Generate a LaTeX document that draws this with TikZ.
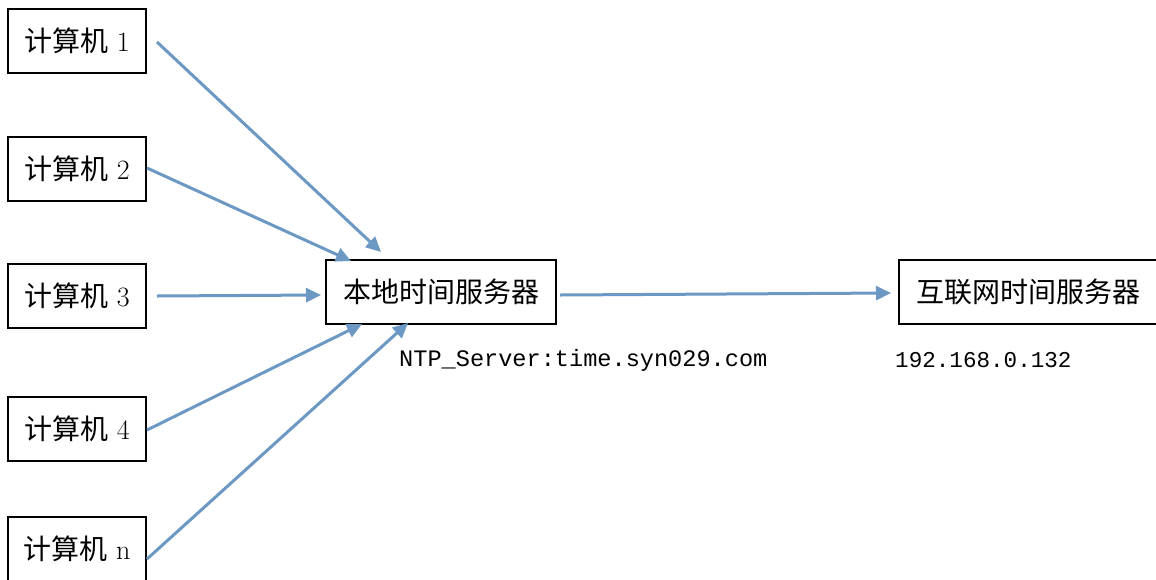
\documentclass[tikz,border=0pt]{standalone}
\usepackage{fontspec}
\newfontfamily\cjk{Noto Sans CJK SC}
\newfontfamily\monof{Liberation Mono}
\usetikzlibrary{arrows.meta}
\definecolor{arrowblue}{RGB}{108,152,196}
\tikzset{
  box/.style={draw=black, line width=2.2pt, minimum height=64pt, inner sep=0pt, font=\fontsize{28}{32}\selectfont},
  pcbox/.style={box, minimum width=138pt},
  conn/.style={draw=arrowblue, line width=3pt, -{Triangle[length=15pt,width=14pt]}},
  lbl/.style={font=\monof\fontsize{23.6}{26}\selectfont, inner sep=0pt, anchor=west}
}
\begin{document}
\begin{tikzpicture}[x=1pt,y=-1pt]
\useasboundingbox[fill=white] (0,0) rectangle (1156,579);
\node[pcbox] (c1) at (77,41) {{\cjk 计算机} 1};
\node[pcbox] (c2) at (77,169) {{\cjk 计算机} 2};
\node[pcbox] (c3) at (77,296) {{\cjk 计算机} 3};
\node[pcbox] (c4) at (77,429) {{\cjk 计算机} 4};
\node[pcbox] (cn) at (77,549) {{\cjk 计算机} n};
\node[box, minimum width=230pt] (local) at (441,292) {\cjk 本地时间服务器};
\node[box, minimum width=258pt] (inet) at (1028,292) {\cjk 互联网时间服务器};
\node[lbl] (ntp) at (399,360) {NTP\_Server:time.syn029.com};
\node[lbl, font=\monof\fontsize{22.6}{26}\selectfont] (ip) at (895,360) {192.168.0.132};
\coordinate (s1) at (157,42);  \coordinate (t1) at (381,252);
\coordinate (s2) at (147,168); \coordinate (t2) at (351,261);
\coordinate (s3) at (157,296); \coordinate (t3) at (321,295);
\coordinate (s4) at (147,430); \coordinate (t4) at (362,324);
\coordinate (s5) at (147,559); \coordinate (t5) at (408,323);
\coordinate (s6) at (560,295); \coordinate (t6) at (891,293);
\draw[conn] (s1) -- (t1);
\draw[conn] (s2) -- (t2);
\draw[conn] (s3) -- (t3);
\draw[conn] (s4) -- (t4);
\draw[conn] (s5) -- (t5);
\draw[conn] (s6) -- (t6);
\end{tikzpicture}
\end{document}
